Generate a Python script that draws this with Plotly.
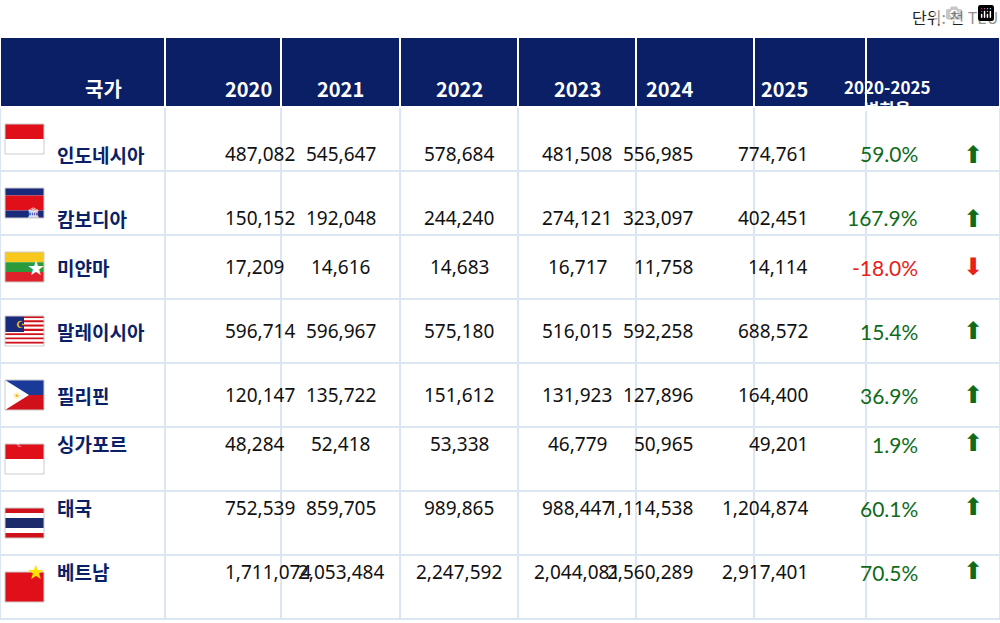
import plotly.graph_objects as go

countries = ["인도네시아", "캄보디아", "미얀마", "말레이시아", "필리핀", "싱가포르", "태국", "베트남"]
years = ["2020", "2021", "2022", "2023", "2024", "2025"]
v2020 = [487082, 150152, 17209, 596714, 120147, 48284, 752539, 1711074]
v2021 = [545647, 192048, 14616, 596967, 135722, 52418, 859705, 2053484]
v2022 = [578684, 244240, 14683, 575180, 151612, 53338, 989865, 2247592]
v2023 = [481508, 274121, 16717, 516015, 131923, 46779, 988447, 2044081]
v2024 = [556985, 323097, 11758, 592258, 127896, 50965, 1114538, 2560289]
v2025 = [774761, 402451, 14114, 688572, 164400, 49201, 1204874, 2917401]
change = [59.0, 167.9, -18.0, 15.4, 36.9, 1.9, 60.1, 70.5]

W, H, TOP = 1000, 623, 37
HEAD_H, ROW_H = 70, 64
col_w = [165, 116, 119, 118, 118, 118, 112, 134]
navy = "#0b1f66"
grid = "#dce6f2"
green, red = "#0f6b1a", "#e8201a"
FONT = "Noto Sans CJK KR"

# table draws only the grid and fills; text goes in annotations so it can be centred vertically
fig = go.Figure(go.Table(
    columnwidth=col_w,
    header=dict(values=[""] * 8, fill_color=navy, line_color="#ffffff", line_width=2, height=HEAD_H),
    cells=dict(values=[[""] * 8] * 8, fill_color="white", line_color=grid, line_width=2, height=ROW_H),
))

plot_h = H - TOP


def py(y):
    return 1 - (y - TOP) / plot_h


edges = [0]
for w in col_w:
    edges.append(edges[-1] + w)
centers = [(edges[k] + edges[k + 1]) / 2 for k in range(8)]

shapes, annos = [], []
head_cy = TOP + HEAD_H / 2
heads = ["국가"] + years + ["2020-2025<br>변화율"]
for k, t in enumerate(heads):
    annos.append(dict(x=centers[k] / W, y=py(head_cy), text=f"<b>{t}</b>", showarrow=False,
                      font=dict(size=20 if k < 7 else 17, color="white", family=FONT)))

series = [v2020, v2021, v2022, v2023, v2024, v2025]
for i, c in enumerate(countries):
    cy = TOP + HEAD_H + ROW_H * i + ROW_H / 2
    annos.append(dict(x=55 / W, y=py(cy), xanchor="left", text=f"<b>{c}</b>", showarrow=False,
                      font=dict(size=19, color=navy, family=FONT)))
    for k, s in enumerate(series):
        annos.append(dict(x=centers[k + 1] / W, y=py(cy), text=f"{s[i]:,}", showarrow=False,
                          font=dict(size=19, color="#111111", family="Noto Sans")))
    up = change[i] >= 0
    col = green if up else red
    annos.append(dict(x=920 / W, y=py(cy), text=f"{change[i]:.1f}%", showarrow=False,
                      font=dict(size=21, color=col, family="Lato")))
    annos.append(dict(x=985 / W, y=py(cy), text="⬆" if up else "⬇", showarrow=False,
                      font=dict(size=24, color=col, family="DejaVu Sans")))

    x0, x1 = 5, 44
    y0, y1 = cy - 15, cy + 15

    def band(a, b, colr):
        shapes.append(dict(type="rect", xref="paper", yref="paper",
                           x0=x0 / W, x1=x1 / W, y0=py(y0 + a * 30), y1=py(y0 + b * 30),
                           fillcolor=colr, line_width=0))

    if c == "인도네시아":
        band(0, .5, "#e0101a"); band(.5, 1, "white")
    elif c == "캄보디아":
        band(0, .25, "#1a2a7a"); band(.25, .75, "#e0101a"); band(.75, 1, "#1a2a7a")
        annos.append(dict(x=24.5 / W, y=py(cy), text="🏛", showarrow=False, font=dict(size=10, color="white")))
    elif c == "미얀마":
        band(0, .34, "#f8c91c"); band(.34, .67, "#2a9a3a"); band(.67, 1, "#e0202a")
        annos.append(dict(x=24.5 / W, y=py(cy), text="★", showarrow=False, font=dict(size=20, color="white")))
    elif c == "말레이시아":
        for k in range(7):
            band(k / 7, (k + .5) / 7, "#d0101a"); band((k + .5) / 7, (k + 1) / 7, "white")
        shapes.append(dict(type="rect", xref="paper", yref="paper", x0=x0 / W, x1=24 / W,
                           y0=py(y0), y1=py(y0 + 16), fillcolor="#1a2a7a", line_width=0))
        annos.append(dict(x=14 / W, y=py(y0 + 8), text="☪", showarrow=False, font=dict(size=10, color="#f8c91c")))
    elif c == "필리핀":
        band(0, .5, "#1a3a9a"); band(.5, 1, "#d0101a")
        shapes.append(dict(type="path", xref="paper", yref="paper",
                           path=f"M {x0/W},{py(y0)} L {(x0+24)/W},{py(cy)} L {x0/W},{py(y1)} Z",
                           fillcolor="white", line_width=0))
        annos.append(dict(x=11 / W, y=py(cy), text="☀", showarrow=False, font=dict(size=9, color="#f0b800")))
    elif c == "싱가포르":
        band(0, .5, "#e0101a"); band(.5, 1, "white")
        annos.append(dict(x=14 / W, y=py(cy - 7), text="☾", showarrow=False, font=dict(size=10, color="white")))
    elif c == "태국":
        band(0, 1 / 6, "#d0101a"); band(1 / 6, 2 / 6, "white"); band(2 / 6, 4 / 6, "#1a2a6a")
        band(4 / 6, 5 / 6, "white"); band(5 / 6, 1, "#d0101a")
    elif c == "베트남":
        band(0, 1, "#e0101a")
        annos.append(dict(x=24.5 / W, y=py(cy), text="★", showarrow=False, font=dict(size=20, color="#ffe000")))
    shapes.append(dict(type="rect", xref="paper", yref="paper", x0=x0 / W, x1=x1 / W,
                       y0=py(y0), y1=py(y1), line=dict(color="#cccccc", width=1)))

annos.append(dict(x=1, y=1, yshift=20, xanchor="right", yanchor="middle", showarrow=False,
                  text="단위: 천 TEU", font=dict(size=16, color="#222222", family=FONT)))
for a in annos:
    a.setdefault("xref", "paper"); a.setdefault("yref", "paper")

fig.update_layout(width=W, height=H, margin=dict(l=0, r=0, t=TOP, b=0),
                  paper_bgcolor="white", shapes=shapes, annotations=annos)
fig.write_html("out.html", post_script="document.body.style.margin='0';")
